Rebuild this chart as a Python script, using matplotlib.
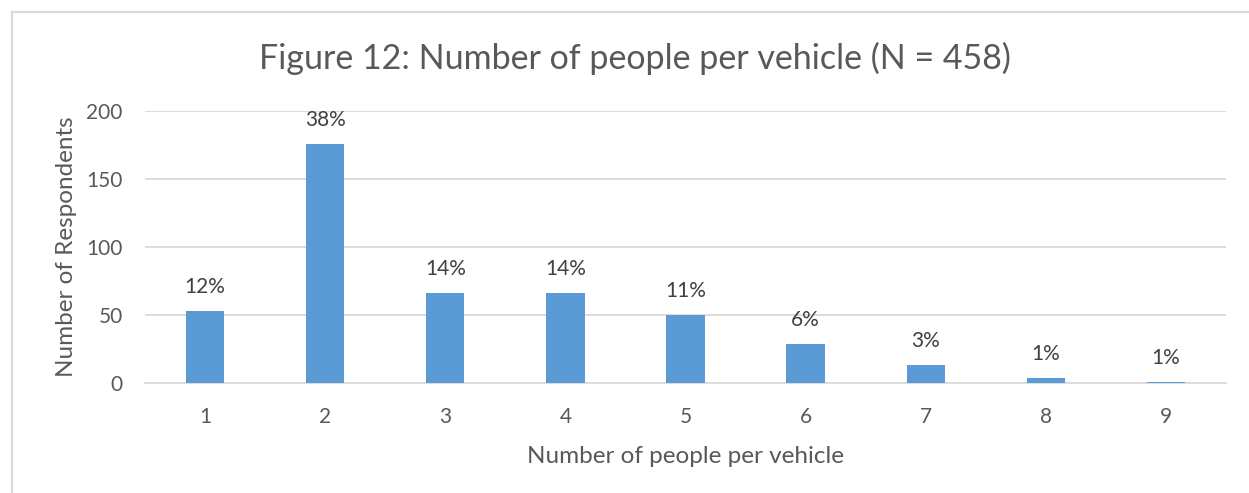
import matplotlib.pyplot as plt
from matplotlib.patches import Rectangle

# data
people = [1, 2, 3, 4, 5, 6, 7, 8, 9]
respondents = [53, 176, 66, 66, 50, 29, 13, 4, 1]
pct_labels = ['12%', '38%', '14%', '14%', '11%', '6%', '3%', '1%', '1%']

text_col = '#595959'
plt.rcParams['font.family'] = ['Lato', 'DejaVu Sans']

fig = plt.figure(figsize=(12.49, 4.93), dpi=100)
ax = fig.add_axes([145 / 1249, 1 - 383 / 493, 1081 / 1249, 272 / 493])

# chart area border (light grey frame)
fig.patches.append(Rectangle((12 / 1249, -0.1), 1.2, 1 - 12 / 493 + 0.1,
                             transform=fig.transFigure, fill=False,
                             edgecolor='#d9d9d9', linewidth=1.5))

ax.bar(people, respondents, width=0.32, color='#5b9bd5', zorder=3)
for x, v, lab in zip(people, respondents, pct_labels):
    ax.annotate(lab, (x, v), xytext=(0, 10), textcoords='offset points',
                ha='center', va='bottom', fontsize=15, color='#404040')

ax.set_xlim(0.5, 9.5)
ax.set_ylim(0, 200)
ax.set_xticks(people)
ax.set_yticks([0, 50, 100, 150, 200])
ax.grid(axis='y', color='#d9d9d9', linewidth=1.3, zorder=0)
for s in ['top', 'right', 'left']:
    ax.spines[s].set_visible(False)
ax.spines['bottom'].set_color('#d9d9d9')
ax.spines['bottom'].set_linewidth(1.3)
ax.tick_params(length=0, labelsize=15, colors=text_col)
ax.tick_params(axis='x', pad=17)
ax.tick_params(axis='y', pad=16)

ax.set_xlabel('Number of people per vehicle', fontsize=17.5, color=text_col, labelpad=14)
ax.set_ylabel('Number of Respondents', fontsize=17.5, color=text_col, labelpad=7)
fig.text(0.508, 1 - 58 / 493, 'Figure 12: Number of people per vehicle (N = 458)',
         ha='center', va='center', fontsize=24.5, color=text_col)

fig.savefig('out.png', dpi=100)
